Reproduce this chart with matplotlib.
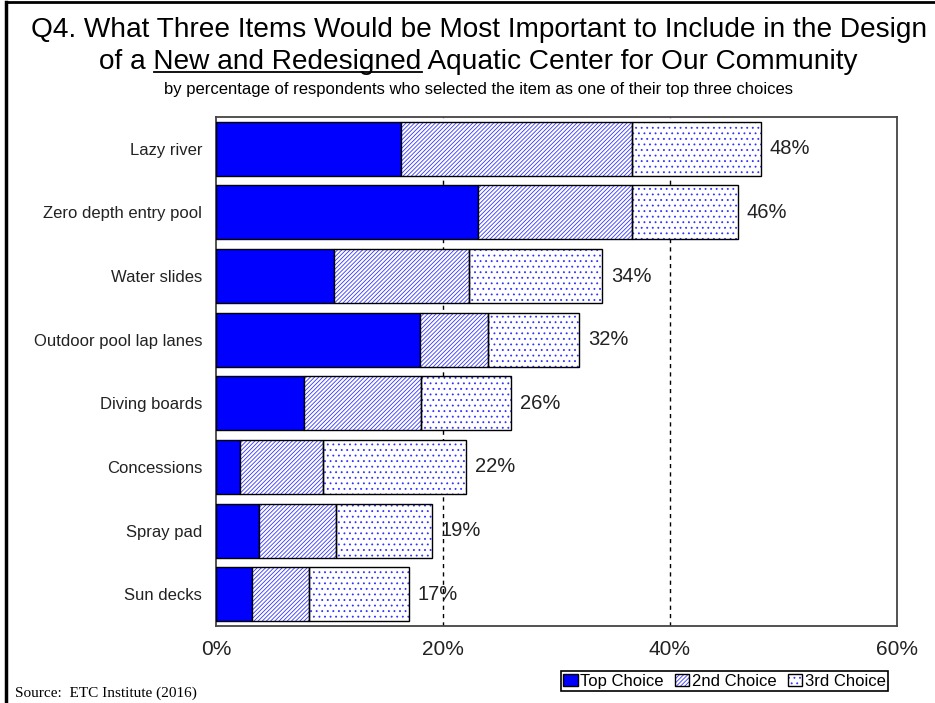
import matplotlib
matplotlib.use('Agg')
import matplotlib.pyplot as plt
from matplotlib.patches import Patch
from matplotlib.lines import Line2D
from matplotlib.legend_handler import HandlerTuple

plt.rcParams['font.family'] = ['Liberation Sans', 'DejaVu Sans']
plt.rcParams['hatch.linewidth'] = 0.6

items = ['Lazy river', 'Zero depth entry pool', 'Water slides', 'Outdoor pool lap lanes',
         'Diving boards', 'Concessions', 'Spray pad', 'Sun decks']
top_choice = [16.3, 23.1, 10.4, 18.0, 7.8, 2.1, 3.8, 3.2]
second_choice = [20.4, 13.6, 11.9, 6.0, 10.3, 7.3, 6.8, 5.0]
third_choice = [11.3, 9.3, 11.7, 8.0, 7.9, 12.6, 8.4, 8.8]
totals = [48, 46, 34, 32, 26, 22, 19, 17]
xticks = [0, 20, 40, 60]

HATCH2 = '/' * 8
HATCH3 = '...'

fig = plt.figure(figsize=(9.35, 7.03), dpi=100)
ax = fig.add_axes([0.231, 0.1095, 0.728, 0.7241])

y = list(range(len(items)))
h = 0.85
left2 = [a for a in top_choice]
left3 = [a + b for a, b in zip(top_choice, second_choice)]

ax.barh(y, top_choice, height=h, color='#0000FF', edgecolor='black', linewidth=1, zorder=3)
# hatched fills first, black outlines on top
ax.barh(y, second_choice, left=left2, height=h, color='white', edgecolor='#3535FF',
        hatch=HATCH2, linewidth=0, zorder=3)
ax.barh(y, second_choice, left=left2, height=h, fill=False, edgecolor='black', linewidth=1, zorder=4)
ax.barh(y, third_choice, left=left3, height=h, color='white', edgecolor='#3030FF',
        hatch=HATCH3, linewidth=0, zorder=3)
ax.barh(y, third_choice, left=left3, height=h, fill=False, edgecolor='black', linewidth=1, zorder=4)

for yi, t in zip(y, totals):
    ax.text(t + 0.8, yi, f'{t}%', va='center', ha='left', fontsize=14.5, color='#222222', zorder=5)

ax.set_xlim(0, 60)
ax.set_ylim(len(items) - 0.5, -0.5)
ax.set_yticks(y)
ax.set_yticklabels(items, fontsize=12, color='#222222')
ax.set_xticks(xticks)
ax.set_xticklabels([f'{v}%' for v in xticks], fontsize=15, color='#222222')
ax.tick_params(axis='both', length=0)
ax.tick_params(axis='x', pad=10)
ax.tick_params(axis='y', pad=10)
for s in ax.spines.values():
    s.set_color('#444444')
    s.set_linewidth(1.3)
for v in [20, 40]:
    ax.axvline(v, color='black', linestyle=(0, (3, 3)), linewidth=1, zorder=1)

# legend
h1 = Patch(facecolor='#0000FF', edgecolor='black', linewidth=1)
h2a = Patch(facecolor='white', edgecolor='#3535FF', hatch=HATCH2, linewidth=0)
h3a = Patch(facecolor='white', edgecolor='#3030FF', hatch=HATCH3, linewidth=0)
hb = Patch(fill=False, edgecolor='black', linewidth=1)
leg = fig.legend([h1, (h2a, hb), (h3a, hb)], ['Top Choice', '2nd Choice', '3rd Choice'],
                 handler_map={tuple: HandlerTuple(ndivide=1)},
                 loc='lower right', bbox_to_anchor=(0.950, 0.0165), ncol=3, fontsize=12,
                 frameon=True, fancybox=False, edgecolor='black', framealpha=1,
                 handlelength=0.85, handleheight=0.8, handletextpad=0.15, columnspacing=0.7,
                 borderpad=0.15, borderaxespad=0)
leg.get_frame().set_linewidth(1.2)

# titles
cx = 0.512
fig.text(cx, 0.958, 'Q4. What Three Items Would be Most Important to Include in the Design',
         ha='center', va='center', fontsize=20.2)
line2 = fig.text(cx, 0.912, 'of a New and Redesigned Aquatic Center for Our Community',
                 ha='center', va='center', fontsize=20.2)
fig.text(cx, 0.873, 'by percentage of respondents who selected the item as one of their top three choices',
         ha='center', va='center', fontsize=12)
fig.text(0.016, 0.014, 'Source:  ETC Institute (2016)', ha='left', va='center', fontsize=11,
         family='Liberation Serif')

# underline the "New and Redesigned" part of the second title line
fig.canvas.draw()
r = fig.canvas.get_renderer()
bb = line2.get_window_extent(r)
def width_of(s):
    t = fig.text(0, 0, s, fontsize=20.2)
    w = t.get_window_extent(r).width
    t.remove()
    return w
w_all = width_of('of a New and Redesigned')
w_tail = width_of('New and Redesigned')
x0 = bb.x0 + (w_all - w_tail)
x1 = bb.x0 + w_all
yline = bb.y0 + 3
W, H = fig.bbox.width, fig.bbox.height
fig.add_artist(Line2D([x0 / W, x1 / W], [yline / H, yline / H], color='black', linewidth=1.3))

# outer frame
fig.add_artist(Line2D([0.0065, 0.0065], [0, 0.997], color='black', linewidth=2.5))
fig.add_artist(Line2D([0.0065, 1], [0.997, 0.997], color='black', linewidth=2))

fig.savefig('out.png', dpi=100)
